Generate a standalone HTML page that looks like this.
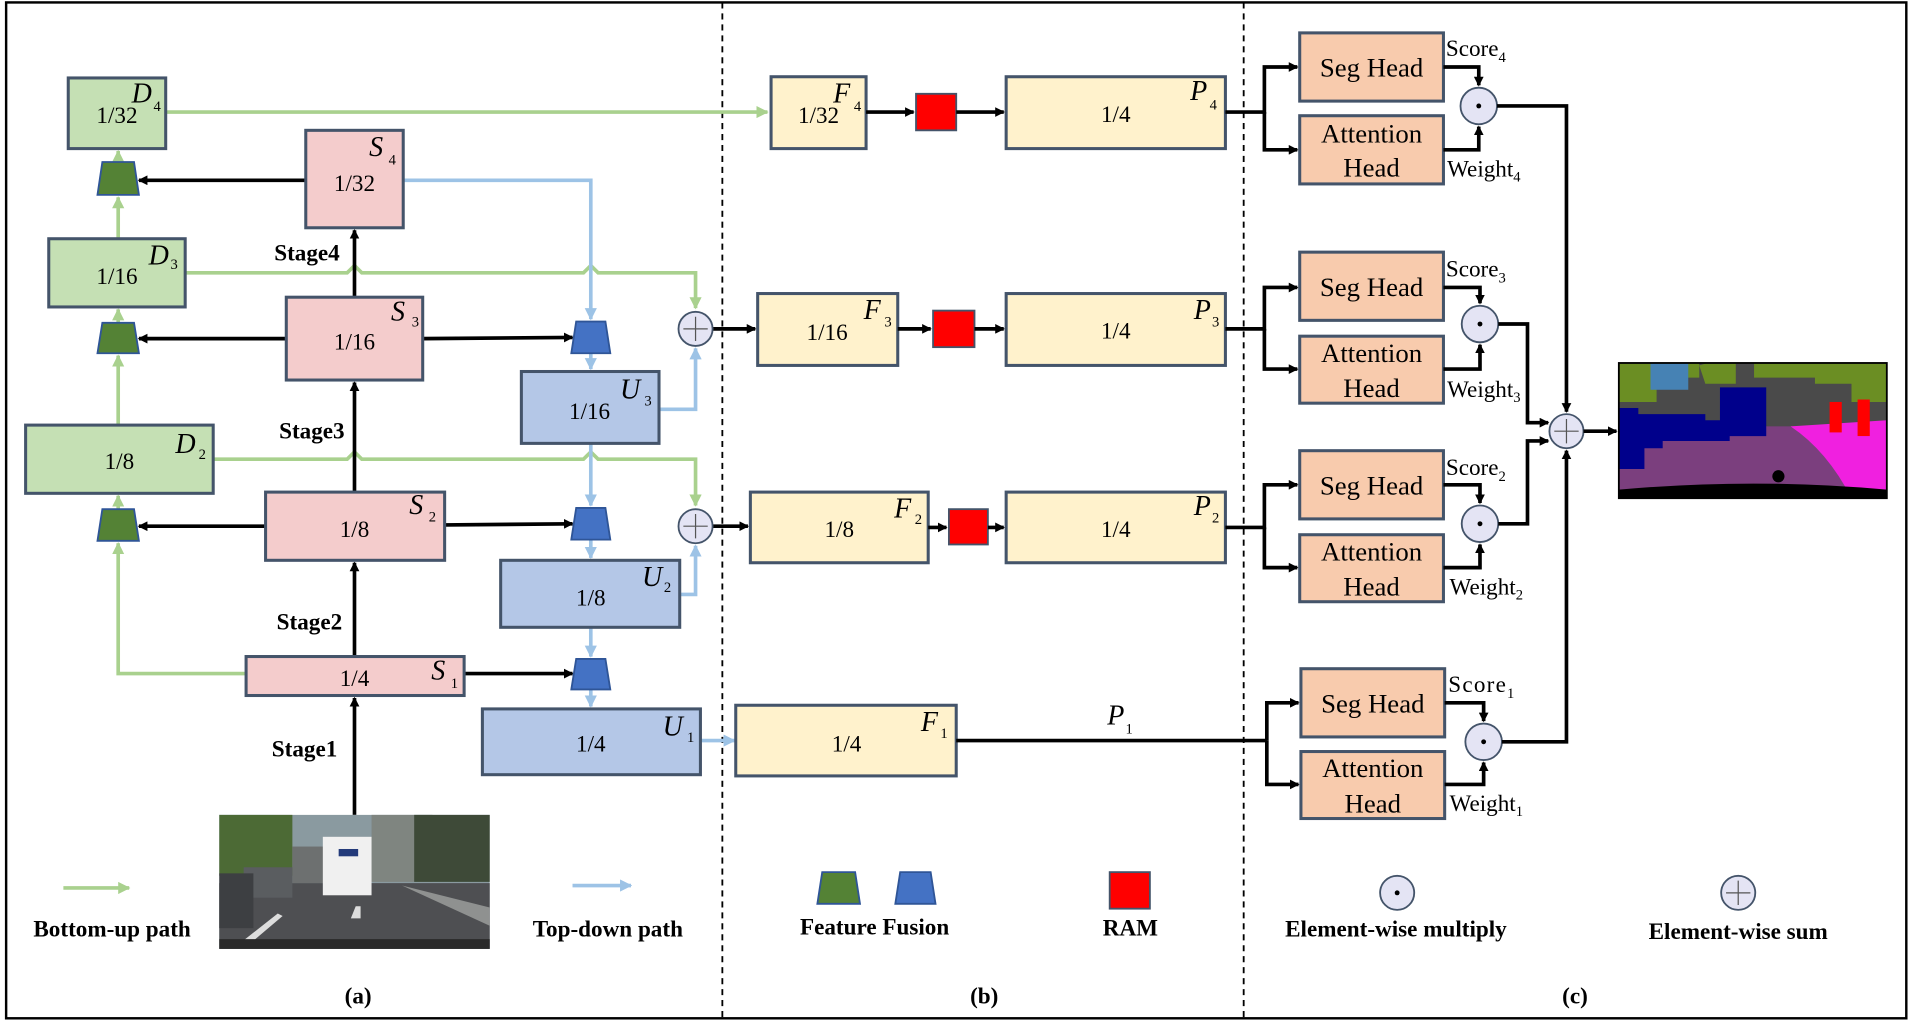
<!DOCTYPE html>
<html><head><meta charset="utf-8"><style>
html,body{margin:0;padding:0;background:#fff;}
svg{display:block;}
text{font-family:"Liberation Serif","DejaVu Serif","Times New Roman",serif;}
.fr{font-size:19px;text-anchor:middle;}
.lb{font-size:23px;font-style:italic;}
.sb{font-size:12px;}
.st{font-size:19px;font-weight:bold;text-anchor:middle;}
.hd{font-size:22px;text-anchor:middle;}
.sw{font-size:19px;}
</style></head><body>
<svg width="1910" height="1025" viewBox="0 0 1568 841.5" xmlns="http://www.w3.org/2000/svg" font-family="Liberation Serif, DejaVu Serif, serif">
<defs>
<marker id="ak" markerWidth="8" markerHeight="8" refX="7" refY="4" orient="auto" markerUnits="userSpaceOnUse"><path d="M0,0 L8,4 L0,8z" fill="#000"/></marker>
<marker id="ag" markerWidth="10" markerHeight="10" refX="9" refY="5" orient="auto" markerUnits="userSpaceOnUse"><path d="M0,0 L10,5 L0,10z" fill="#a9d18e"/></marker>
<marker id="ab" markerWidth="10" markerHeight="10" refX="9" refY="5" orient="auto" markerUnits="userSpaceOnUse"><path d="M0,0 L10,5 L0,10z" fill="#9dc3e6"/></marker>
</defs>
<rect x="5" y="2" width="1560" height="834" fill="none" stroke="#000" stroke-width="2"/>
<line x1="593" y1="2" x2="593" y2="836" stroke="#000" stroke-width="1.5" stroke-dasharray="5,4"/>
<line x1="1021" y1="2" x2="1021" y2="836" stroke="#000" stroke-width="1.5" stroke-dasharray="5,4"/>

<g stroke="#a9d18e" stroke-width="3" fill="none">
<path d="M202,553 H97 V446" marker-end="url(#ag)"/>
<line x1="97" y1="418" x2="97" y2="407" marker-end="url(#ag)"/>
<line x1="97" y1="349" x2="97" y2="292" marker-end="url(#ag)"/>
<line x1="97" y1="265" x2="97" y2="254" marker-end="url(#ag)"/>
<line x1="97" y1="196" x2="97" y2="162" marker-end="url(#ag)"/>
<line x1="97" y1="133" x2="97" y2="124" marker-end="url(#ag)"/>
<line x1="136" y1="92" x2="630" y2="92" marker-end="url(#ag)"/>
<path d="M152,224 H285 l6,-6 l6,6 H479 l6,-6 l6,6 H571 V253" marker-end="url(#ag)"/>
<path d="M175,377 H285 l6,-6 l6,6 H479 l6,-6 l6,6 H571 V415" marker-end="url(#ag)"/>
</g>
<g stroke="#9dc3e6" stroke-width="3" fill="none">
<path d="M331,148 H485 V262" marker-end="url(#ab)"/>
<line x1="485" y1="290" x2="485" y2="303" marker-end="url(#ab)"/>
<line x1="485" y1="364" x2="485" y2="415" marker-end="url(#ab)"/>
<line x1="485" y1="443" x2="485" y2="458" marker-end="url(#ab)"/>
<line x1="485" y1="515" x2="485" y2="539" marker-end="url(#ab)"/>
<line x1="485" y1="566" x2="485" y2="580" marker-end="url(#ab)"/>
<path d="M541,336 H571 V286" marker-end="url(#ab)"/>
<path d="M558,488 H571 V448" marker-end="url(#ab)"/>
<line x1="575" y1="608" x2="603" y2="608" marker-end="url(#ab)"/>
</g>
<g stroke="#000" stroke-width="3" fill="none">
<line x1="291" y1="669" x2="291" y2="573" marker-end="url(#ak)"/>
<line x1="291" y1="539" x2="291" y2="462" marker-end="url(#ak)"/>
<line x1="291" y1="404" x2="291" y2="314" marker-end="url(#ak)"/>
<line x1="291" y1="244" x2="291" y2="189" marker-end="url(#ak)"/>
<line x1="251" y1="148" x2="114" y2="148" marker-end="url(#ak)"/>
<line x1="235" y1="278" x2="114" y2="278" marker-end="url(#ak)"/>
<line x1="218" y1="432" x2="114" y2="432" marker-end="url(#ak)"/>
<line x1="347" y1="278" x2="470" y2="277" marker-end="url(#ak)"/>
<line x1="365" y1="431" x2="470" y2="430" marker-end="url(#ak)"/>
<line x1="381" y1="553" x2="470" y2="553" marker-end="url(#ak)"/>
<line x1="585" y1="270" x2="620" y2="270" marker-end="url(#ak)"/>
<line x1="585" y1="432" x2="614" y2="432" marker-end="url(#ak)"/>
</g>

<g stroke="#44546a" stroke-width="2.5">
<rect x="56" y="64" width="80" height="58" fill="#c5e0b4"/>
<rect x="40" y="196" width="112" height="56" fill="#c5e0b4"/>
<rect x="21" y="349" width="154" height="56" fill="#c5e0b4"/>
<rect x="251" y="107" width="80" height="80" fill="#f4cccc"/>
<rect x="235" y="244" width="112" height="68" fill="#f4cccc"/>
<rect x="218" y="404" width="147" height="56" fill="#f4cccc"/>
<rect x="202" y="539" width="179" height="32" fill="#f4cccc"/>
<rect x="428" y="305" width="113" height="59" fill="#b4c7e7"/>
<rect x="411" y="460" width="147" height="55" fill="#b4c7e7"/>
<rect x="396" y="582" width="179" height="54" fill="#b4c7e7"/>
</g>
<g fill="#548235" stroke="#2f5597" stroke-width="1.5">
<path d="M84,133 H110 L114,160 H80z"/>
<path d="M84,265 H110 L114,290 H80z"/>
<path d="M84,418 H110 L114,444 H80z"/>
<path d="M675,716 H702 L706,742 H671z"/>
</g>
<g fill="#4472c4" stroke="#2f5597" stroke-width="1.5">
<path d="M473,264 H497 L501,290 H469z"/>
<path d="M473,417 H497 L501,443 H469z"/>
<path d="M473,541 H497 L501,566 H469z"/>
<path d="M739,716 H764 L768,742 H735z"/>
</g>
<g fill="#e4e4f4" stroke="#44546a" stroke-width="1.5">
<circle cx="571" cy="270" r="14"/><circle cx="571" cy="432" r="14"/>
<circle cx="1286" cy="354" r="14"/><circle cx="1427" cy="733" r="14"/>
<circle cx="1214" cy="87" r="15"/><circle cx="1215" cy="266" r="15"/>
<circle cx="1215" cy="430" r="15"/><circle cx="1218" cy="609" r="15"/>
<circle cx="1147" cy="733" r="14"/>
</g>
<g stroke="#555" stroke-width="1">
<path d="M561,270 H581 M571,260 V280"/><path d="M561,432 H581 M571,422 V442"/>
<path d="M1276,354 H1296 M1286,344 V364"/><path d="M1417,733 H1437 M1427,723 V743"/>
</g>
<g fill="#000"><circle cx="1214" cy="87" r="2"/><circle cx="1215" cy="266" r="2"/><circle cx="1215" cy="430" r="2"/><circle cx="1218" cy="609" r="2"/><circle cx="1147" cy="733" r="2"/></g>

<text class="fr" x="96" y="101">1/32</text><text class="lb" x="108" y="84">D</text><text class="sb" x="126" y="91">4</text>
<text class="fr" x="96" y="233">1/16</text><text class="lb" x="122" y="217">D</text><text class="sb" x="140" y="221">3</text>
<text class="fr" x="98" y="385">1/8</text><text class="lb" x="144" y="372">D</text><text class="sb" x="163" y="377">2</text>
<text class="fr" x="291" y="157">1/32</text><text class="lb" x="303" y="128">S</text><text class="sb" x="319" y="135">4</text>
<text class="fr" x="291" y="287">1/16</text><text class="lb" x="321" y="263">S</text><text class="sb" x="338" y="268">3</text>
<text class="fr" x="291" y="441">1/8</text><text class="lb" x="336" y="422">S</text><text class="sb" x="352" y="428">2</text>
<text class="fr" x="291" y="563">1/4</text><text class="lb" x="354" y="558">S</text><text class="sb" x="370" y="565">1</text>
<text class="fr" x="484" y="344">1/16</text><text class="lb" x="509" y="327">U</text><text class="sb" x="529" y="333">3</text>
<text class="fr" x="485" y="497">1/8</text><text class="lb" x="527" y="481">U</text><text class="sb" x="545" y="486">2</text>
<text class="fr" x="485" y="617">1/4</text><text class="lb" x="544" y="604">U</text><text class="sb" x="564" y="609">1</text>
<text class="st" x="252" y="214">Stage4</text><text class="st" x="256" y="360">Stage3</text>
<text class="st" x="254" y="517">Stage2</text><text class="st" x="250" y="621">Stage1</text>

<rect x="180" y="669" width="222" height="110" fill="#8a9aa0"/>
<rect x="180" y="669" width="45" height="20" fill="#c9dbe8"/>
<rect x="180" y="669" width="60" height="50" fill="#4c6a35"/>
<rect x="240" y="695" width="30" height="30" fill="#6d7070"/>
<rect x="305" y="669" width="50" height="55" fill="#7f8580"/>
<rect x="340" y="669" width="62" height="55" fill="#3e4a38"/>
<path d="M180,725 L402,725 L402,779 L180,779z" fill="#4e4f52"/>
<path d="M330,727 L402,745 L402,760z" fill="#8f9190"/>
<rect x="265" y="687" width="40" height="48" fill="#f0f0f0"/>
<rect x="278" y="697" width="16" height="6" fill="#233a7a"/>
<rect x="200" y="712" width="40" height="25" fill="#5a5d60"/>
<rect x="180" y="717" width="28" height="45" fill="#3d3f42"/>
<path d="M288,754 L292,744 L296,744 L296,754z" fill="#ddd"/>
<path d="M200,772 L228,750 L232,752 L206,774z" fill="#ddd"/>
<rect x="180" y="771" width="222" height="8" fill="#2a2a2a"/>

<g stroke="#44546a" stroke-width="2.5" fill="#fff2cc">
<rect x="633" y="63" width="78" height="59"/><rect x="826" y="63" width="180" height="59"/>
<rect x="622" y="241" width="115" height="59"/><rect x="826" y="241" width="180" height="59"/>
<rect x="616" y="404" width="146" height="58"/><rect x="826" y="404" width="180" height="58"/>
<rect x="604" y="579" width="181" height="58"/>
</g>
<g fill="#ff0000" stroke="#44546a" stroke-width="1.5">
<rect x="752" y="77" width="33" height="30"/><rect x="766" y="255" width="34" height="30"/>
<rect x="779" y="418" width="32" height="29"/><rect x="911" y="716" width="33" height="30"/>
</g>
<g stroke="#000" stroke-width="3" fill="none">
<line x1="711" y1="92" x2="750" y2="92" marker-end="url(#ak)"/>
<line x1="785" y1="92" x2="824" y2="92" marker-end="url(#ak)"/>
<line x1="737" y1="270" x2="764" y2="270" marker-end="url(#ak)"/>
<line x1="800" y1="270" x2="824" y2="270" marker-end="url(#ak)"/>
<line x1="762" y1="433" x2="777" y2="433" marker-end="url(#ak)"/>
<line x1="811" y1="433" x2="824" y2="433" marker-end="url(#ak)"/>
<line x1="785" y1="608" x2="1040" y2="608"/>
</g>
<text class="fr" x="672" y="101">1/32</text><text class="lb" x="684" y="84">F</text><text class="sb" x="701" y="91">4</text>
<text class="fr" x="916" y="100">1/4</text><text class="lb" x="977" y="82">P</text><text class="sb" x="993" y="90">4</text>
<text class="fr" x="679" y="279">1/16</text><text class="lb" x="709" y="262">F</text><text class="sb" x="726" y="268">3</text>
<text class="fr" x="916" y="278">1/4</text><text class="lb" x="980" y="262">P</text><text class="sb" x="995" y="268">3</text>
<text class="fr" x="689" y="441">1/8</text><text class="lb" x="734" y="425">F</text><text class="sb" x="751" y="430">2</text>
<text class="fr" x="916" y="441">1/4</text><text class="lb" x="980" y="423">P</text><text class="sb" x="995" y="429">2</text>
<text class="fr" x="695" y="617">1/4</text><text class="lb" x="756" y="600">F</text><text class="sb" x="772" y="606">1</text>
<text class="lb" x="909" y="595">P</text><text class="sb" x="924" y="602">1</text>

<g stroke="#44546a" stroke-width="2.5" fill="#f8cbad">
<rect x="1067" y="27" width="118" height="56"/><rect x="1067" y="95" width="118" height="56"/>
<rect x="1067" y="207" width="118" height="56"/><rect x="1067" y="276" width="118" height="55"/>
<rect x="1067" y="370" width="118" height="56"/><rect x="1067" y="439" width="118" height="55"/>
<rect x="1068" y="549" width="118" height="56"/><rect x="1068" y="617" width="118" height="55"/>
</g>
<g stroke="#000" stroke-width="3" fill="none">
<path d="M1006,92 H1038 V55 H1065" marker-end="url(#ak)"/><path d="M1038,92 V123 H1065" marker-end="url(#ak)"/>
<path d="M1006,270 H1038 V236 H1065" marker-end="url(#ak)"/><path d="M1038,270 V303 H1065" marker-end="url(#ak)"/>
<path d="M1006,433 H1038 V398 H1065" marker-end="url(#ak)"/><path d="M1038,433 V466 H1065" marker-end="url(#ak)"/>
<path d="M1040,608 V577 H1066" marker-end="url(#ak)"/><path d="M1040,608 V644 H1066" marker-end="url(#ak)"/>
<path d="M1185,55 H1214 V70" marker-end="url(#ak)"/><path d="M1185,123 H1214 V104" marker-end="url(#ak)"/>
<path d="M1185,236 H1215 V249" marker-end="url(#ak)"/><path d="M1185,303 H1215 V283" marker-end="url(#ak)"/>
<path d="M1185,398 H1215 V413" marker-end="url(#ak)"/><path d="M1185,466 H1215 V447" marker-end="url(#ak)"/>
<path d="M1186,577 H1218 V592" marker-end="url(#ak)"/><path d="M1186,644 H1218 V626" marker-end="url(#ak)"/>
<path d="M1229,87 H1286 V338" marker-end="url(#ak)"/>
<path d="M1230,266 H1254 V347 H1271" marker-end="url(#ak)"/>
<path d="M1230,430 H1254 V362 H1271" marker-end="url(#ak)"/>
<path d="M1233,609 H1286 V370" marker-end="url(#ak)"/>
<line x1="1300" y1="354" x2="1327" y2="354" marker-end="url(#ak)"/>
</g>
<text class="hd" x="1126" y="63">Seg Head</text><text class="hd" x="1126" y="117">Attention</text><text class="hd" x="1126" y="145">Head</text>
<text class="hd" x="1126" y="243">Seg Head</text><text class="hd" x="1126" y="297">Attention</text><text class="hd" x="1126" y="326">Head</text>
<text class="hd" x="1126" y="406">Seg Head</text><text class="hd" x="1126" y="460">Attention</text><text class="hd" x="1126" y="489">Head</text>
<text class="hd" x="1127" y="585">Seg Head</text><text class="hd" x="1127" y="638">Attention</text><text class="hd" x="1127" y="667">Head</text>
<text class="sw" x="1187" y="46">Score<tspan class="sb" dy="5">4</tspan></text>
<text class="sw" x="1188" y="145">Weight<tspan class="sb" dy="4">4</tspan></text>
<text class="sw" x="1187" y="227">Score<tspan class="sb" dy="5">3</tspan></text>
<text class="sw" x="1188" y="326">Weight<tspan class="sb" dy="4">3</tspan></text>
<text class="sw" x="1187" y="390">Score<tspan class="sb" dy="5">2</tspan></text>
<text class="sw" x="1190" y="488">Weight<tspan class="sb" dy="4">2</tspan></text>
<text class="sw" x="1189" y="568" letter-spacing="1">Score<tspan class="sb" dy="5">1</tspan></text>
<text class="sw" x="1190" y="666">Weight<tspan class="sb" dy="4">1</tspan></text>

<rect x="1329" y="298" width="220" height="111" fill="#7b3f7e"/>
<rect x="1329" y="298" width="220" height="52" fill="#4a4a4a"/>
<path d="M1329,298 H1395 V310 H1360 V330 H1329z" fill="#6b8e23"/>
<path d="M1355,298 H1386 V320 H1355z" fill="#4682b4"/>
<path d="M1395,300 L1402,298 H1425 V315 H1400z" fill="#6b8e23"/>
<path d="M1440,298 H1549 V330 H1520 V315 H1490 V310 H1440z" fill="#6b8e23"/>
<path d="M1470,350 L1549,345 L1549,409 L1520,409 Q1500,370 1470,350z" fill="#f020e0"/>
<path d="M1329,335 H1345 V340 H1400 V345 H1412 V318 H1450 V358 H1420 V362 H1365 V368 H1350 V385 H1329z" fill="#00008b"/>
<rect x="1502" y="330" width="10" height="25" fill="#ff0000"/><rect x="1525" y="328" width="10" height="30" fill="#ff0000"/>
<path d="M1329,402 Q1440,392 1549,402 V409 H1329z" fill="#000"/>
<circle cx="1460" cy="391" r="5" fill="#000"/>
<rect x="1329" y="298" width="220" height="111" fill="none" stroke="#000" stroke-width="1.5"/>

<line x1="52" y1="729" x2="106" y2="729" stroke="#a9d18e" stroke-width="3" marker-end="url(#ag)"/>
<line x1="470" y1="727" x2="518" y2="727" stroke="#9dc3e6" stroke-width="3" marker-end="url(#ab)"/>
<text class="st" x="92" y="769">Bottom-up path</text>
<text class="st" x="499" y="769">Top-down path</text>
<text class="st" x="718" y="767">Feature Fusion</text>
<text class="st" x="928" y="768">RAM</text>
<text class="st" x="1146" y="769">Element-wise multiply</text>
<text class="st" x="1427" y="771">Element-wise sum</text>
<text class="st" x="294" y="824">(a)</text><text class="st" x="808" y="824">(b)</text><text class="st" x="1293" y="824">(c)</text>
</svg>
</body></html>
